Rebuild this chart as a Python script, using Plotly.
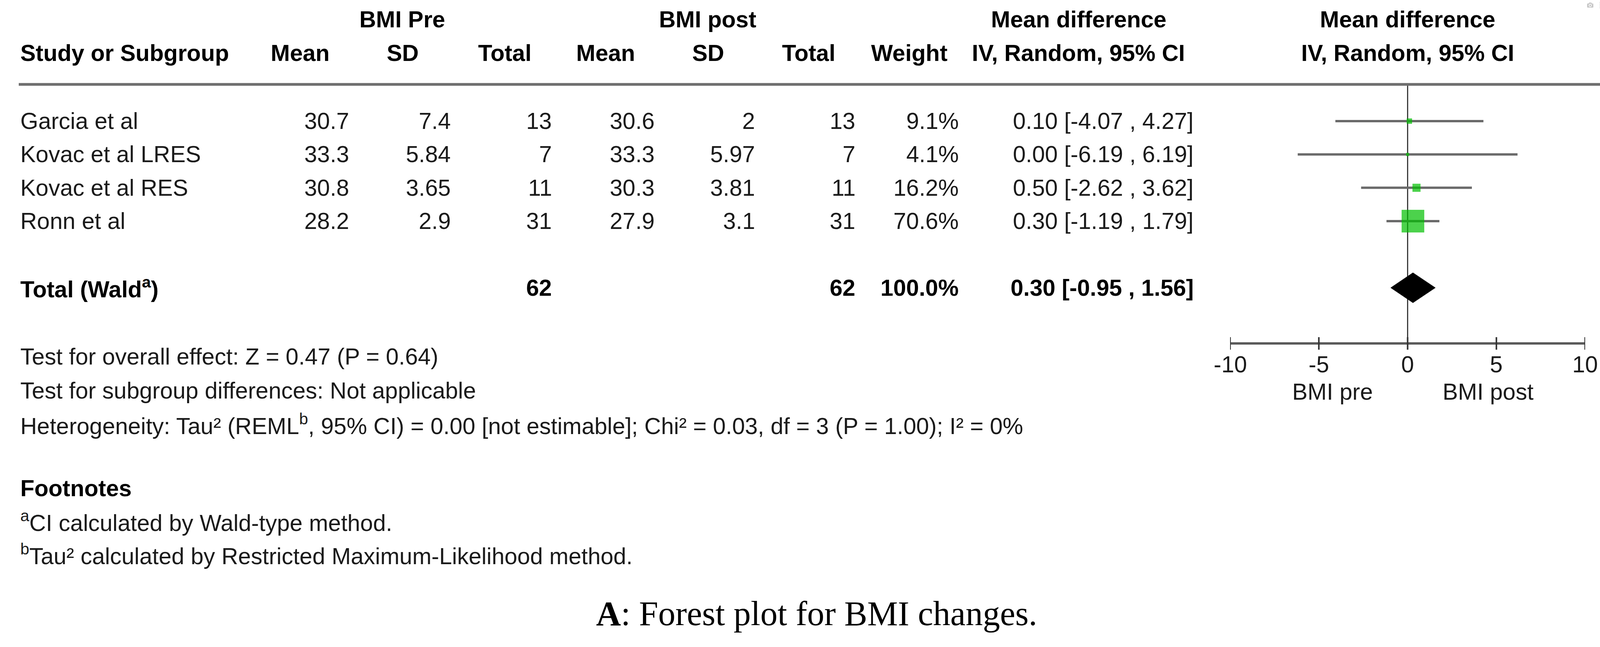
import plotly.graph_objects as go

# ---------------- data ----------------
studies = ["Garcia et al", "Kovac et al LRES", "Kovac et al RES", "Ronn et al"]
pre_mean = [30.7, 33.3, 30.8, 28.2]
pre_sd = [7.4, 5.84, 3.65, 2.9]
pre_n = [13, 7, 11, 31]
post_mean = [30.6, 33.3, 30.3, 27.9]
post_sd = [2, 5.97, 3.81, 3.1]
post_n = [13, 7, 11, 31]
weight = [9.1, 4.1, 16.2, 70.6]
md = [0.10, 0.00, 0.50, 0.30]
ci_lo = [-4.07, -6.19, -2.62, -1.19]
ci_hi = [4.27, 6.19, 3.62, 1.79]

total_label = "Total (Wald<sup>a</sup>)"
total_pre_n = 62
total_post_n = 62
total_weight = 100.0
total_md = 0.30
total_lo = -0.95
total_hi = 1.56

axis_ticks = [-10, -5, 0, 5, 10]
axis_labels = ["BMI pre", "BMI post"]

line_overall = "Test for overall effect: Z = 0.47 (P = 0.64)"
line_subgroup = "Test for subgroup differences: Not applicable"
line_het = ("Heterogeneity: Tau\u00b2 (REML<sup>b</sup>, 95% CI) = 0.00 [not estimable]; "
            "Chi\u00b2 = 0.03, df = 3 (P = 1.00); I\u00b2 = 0%")
footnote_title = "Footnotes"
footnote_a = "<sup>a</sup>CI calculated by Wald-type method."
footnote_b = "<sup>b</sup>Tau\u00b2 calculated by Restricted Maximum-Likelihood method."
caption = "<b>A</b>: Forest plot for BMI changes."

# ---------------- layout constants ----------------
W, H = 4173, 1656
ROW0, ROWH = 310.0, 85.3          # pixel of first study row, row pitch
SANS = "Arial, Liberation Sans, sans-serif"
SERIF = "Palatino Linotype, Book Antiqua, Liberation Serif, serif"
FS = 59
TXT = "#1a1a1a"
GREEN = "#00bf00"

X_LEFT, X_RIGHT = 3149, 4058      # pixel span of -10..10


def prow(p):
    """pixel y -> row coordinate"""
    return (p - ROW0) / ROWH


AXIS_ROW = prow(879)
TICK_HALF = 16 / ROWH
HLINE_ROW = prow(216)
HEAD1_ROW = prow(50)
HEAD2_ROW = prow(136)
TOTAL_ROW = 5


def px(x):
    return x / W


annotations = []


def txt(text, x, row, anchor="left", bold=False, size=FS, family=SANS, color=TXT, xref="paper"):
    if bold:
        text = "<b>" + text + "</b>"
    annotations.append(dict(
        text=text, x=px(x) if xref == "paper" else x, xref=xref, y=row, yref="y",
        xanchor=anchor, yanchor="middle", showarrow=False,
        font=dict(family=family, size=size, color=color),
    ))


# headers
txt("BMI Pre", 1030, HEAD1_ROW, "center", True, color="#000")
txt("BMI post", 1811, HEAD1_ROW, "center", True, color="#000")
txt("Mean difference", 2761, HEAD1_ROW, "center", True, color="#000")
txt("Mean difference", 3603, HEAD1_ROW, "center", True, color="#000")

txt("Study or Subgroup", 50, HEAD2_ROW, "left", True, color="#000")
for lab, cx in [("Mean", 768), ("SD", 1031), ("Total", 1292),
                ("Mean", 1550), ("SD", 1813), ("Total", 2070),
                ("Weight", 2328), ("IV, Random, 95% CI", 2760),
                ("IV, Random, 95% CI", 3603)]:
    txt(lab, cx, HEAD2_ROW, "center", True, color="#000")

# column right edges
C_PM, C_PS, C_PN, C_QM, C_QS, C_QN, C_W, C_CI = 896, 1156, 1415, 1678, 1935, 2192, 2456, 3058


def g(v):
    return f"{v:g}"


for i, s in enumerate(studies):
    r = i
    txt(s, 50, r, "left")
    txt(g(pre_mean[i]), C_PM, r, "right")
    txt(g(pre_sd[i]), C_PS, r, "right")
    txt(g(pre_n[i]), C_PN, r, "right")
    txt(g(post_mean[i]), C_QM, r, "right")
    txt(g(post_sd[i]), C_QS, r, "right")
    txt(g(post_n[i]), C_QN, r, "right")
    txt(f"{weight[i]:.1f}%", C_W, r, "right")
    txt(f"{md[i]:.2f} [{ci_lo[i]:.2f} , {ci_hi[i]:.2f}]", C_CI, r, "right")

txt(total_label, 50, TOTAL_ROW, "left", True, color="#000")
txt(g(total_pre_n), C_PN, TOTAL_ROW, "right", True, color="#000")
txt(g(total_post_n), C_QN, TOTAL_ROW, "right", True, color="#000")
txt(f"{total_weight:.1f}%", C_W, TOTAL_ROW, "right", True, color="#000")
txt(f"{total_md:.2f} [{total_lo:.2f} , {total_hi:.2f}]", C_CI, TOTAL_ROW, "right", True, color="#000")

# bottom texts
txt(line_overall, 50, prow(913))
txt(line_subgroup, 50, prow(1000))
txt(line_het, 50, prow(1086))
txt(footnote_title, 50, prow(1250), bold=True, color="#000")
txt(footnote_a, 50, prow(1334))
txt(footnote_b, 50, prow(1419))
txt(caption, 2090, prow(1570), "center", size=88, family=SERIF, color="#000")

# axis tick labels (placed through the x scale) and direction labels
for t in axis_ticks:
    txt(g(t), t, prow(933), "center", xref="x")
txt(axis_labels[0], 3411, prow(1003), "center")
txt(axis_labels[1], 3809, prow(1003), "center")

# ---------------- traces ----------------
fig = go.Figure()
rows = list(range(len(studies)))
for i in rows:
    fig.add_trace(go.Scatter(
        x=[ci_lo[i], ci_hi[i]], y=[i, i], mode="lines",
        line=dict(color="#6a6a6a", width=6),
        showlegend=False, hoverinfo="skip"))

wmax = max(weight)
fig.add_trace(go.Scatter(
    x=md, y=rows, mode="markers",
    marker=dict(symbol="square", color=GREEN,
                size=[58 * (w / wmax) ** 0.7 for w in weight],
                line=dict(width=0)),
    showlegend=False, hoverinfo="skip"))

DH = 0.45
fig.add_trace(go.Scatter(
    x=[total_lo, total_md, total_hi, total_md, total_lo],
    y=[TOTAL_ROW, TOTAL_ROW - DH, TOTAL_ROW, TOTAL_ROW + DH, TOTAL_ROW],
    mode="lines", fill="toself", fillcolor="#000000",
    line=dict(color="#000000", width=1),
    showlegend=False, hoverinfo="skip"))

shapes = [
    # header rule
    dict(type="line", xref="paper", yref="y", x0=px(48), x1=px(4144),
         y0=HLINE_ROW, y1=HLINE_ROW, line=dict(color="#6e6e6e", width=7)),
    # line of no effect
    dict(type="line", xref="x", yref="y", x0=0, x1=0,
         y0=HLINE_ROW, y1=AXIS_ROW, line=dict(color="#3a3a3a", width=3), layer="below"),
    # axis line
    dict(type="line", xref="x", yref="y", x0=axis_ticks[0], x1=axis_ticks[-1],
         y0=AXIS_ROW, y1=AXIS_ROW, line=dict(color="#5a5a5a", width=6)),
]
for t in axis_ticks:
    shapes.append(dict(type="line", xref="x", yref="y", x0=t, x1=t,
                       y0=AXIS_ROW - TICK_HALF, y1=AXIS_ROW + TICK_HALF,
                       line=dict(color="#333333", width=4)))

fig.update_layout(
    width=W, height=H,
    margin=dict(l=0, r=0, t=0, b=0),
    paper_bgcolor="white", plot_bgcolor="white",
    showlegend=False,
    xaxis=dict(domain=[px(X_LEFT), px(X_RIGHT)], range=[axis_ticks[0], axis_ticks[-1]],
               visible=False, fixedrange=True),
    yaxis=dict(domain=[0, 1], range=[prow(H), prow(0)],
               visible=False, fixedrange=True),
    annotations=annotations,
    shapes=shapes,
)

fig.write_html("out.html",
               post_script="document.body.style.margin='0';document.body.style.overflow='hidden';")
